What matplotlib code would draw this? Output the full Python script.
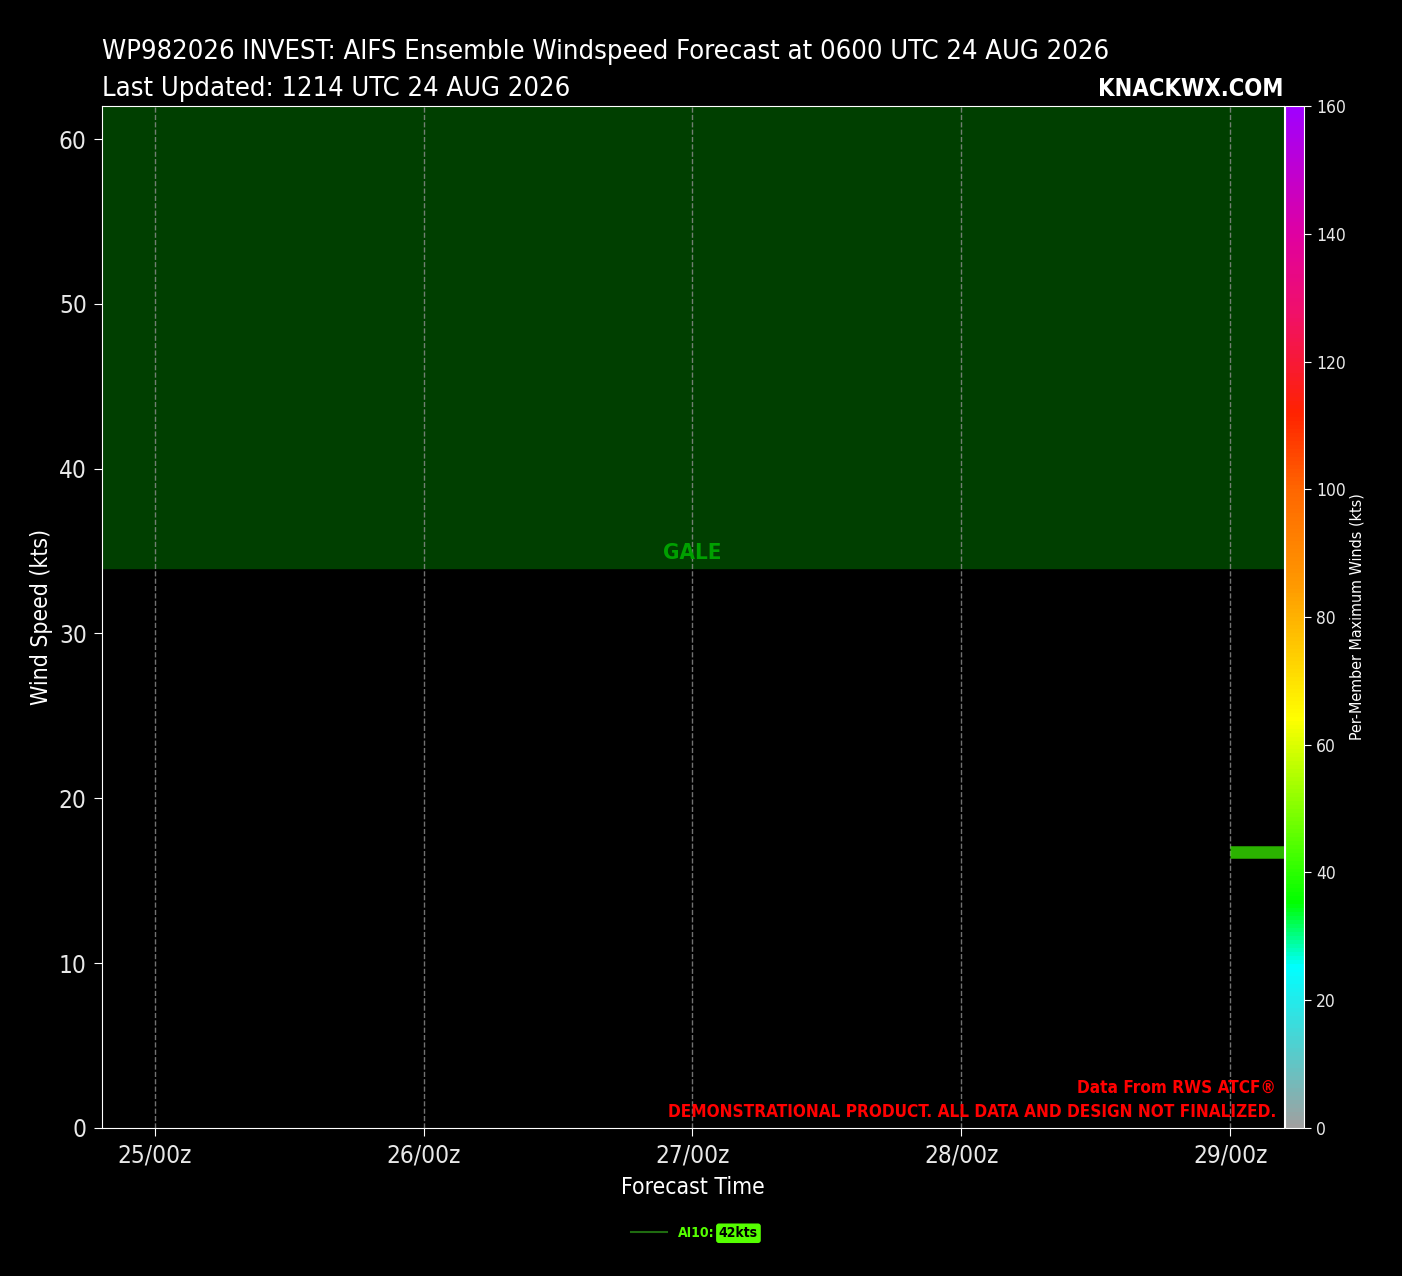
import datetime as dt
import matplotlib
matplotlib.use('Agg')
import matplotlib.pyplot as plt
import matplotlib.dates as mdates
from matplotlib.colors import LinearSegmentedColormap, Normalize
from matplotlib.cm import ScalarMappable
from matplotlib.lines import Line2D

plt.rcParams['font.family'] = ['Liberation Sans Narrow', 'DejaVu Sans']
plt.rcParams['font.stretch'] = 'condensed'

# Данные
init_time = dt.datetime(2026, 8, 24, 6)
member_names = ['AI10']
member_max_winds = [42]
member_times = [[dt.datetime(2026, 8, 29, 0), dt.datetime(2026, 8, 29, 6)]]
member_speeds = [[16.75, 16.75]]
gale_low = 34
y_max = 62
x_start = dt.datetime(2026, 8, 24, 19, 18)
x_end = dt.datetime(2026, 8, 29, 4, 48)

cb_stops = [0, 25, 35, 64, 85, 100, 112, 128, 140, 160]
cb_colors = ['#a0a0a0', '#00ffff', '#00ff00', '#ffff00', '#ff9900',
             '#ff6600', '#ff2200', '#f0106a', '#e000a0', '#a000ff']

cmap = LinearSegmentedColormap.from_list(
    'knack', [(s / 160, c) for s, c in zip(cb_stops, cb_colors)])
norm = Normalize(0, 160)

fig = plt.figure(figsize=(14.02, 12.76), dpi=100, facecolor='black')
ax = fig.add_axes([0.07275, 0.116, 0.843, 0.8009])
cax = fig.add_axes([0.9165, 0.116, 0.0136, 0.8009])
ax.set_facecolor('black')

# Зона шторма
ax.axhspan(gale_low, y_max, color='#003f00', zorder=0)
ax.text(mdates.date2num(dt.datetime(2026, 8, 27, 0)), gale_low + 0.3, 'GALE',
        color='#00a000', fontsize=16, fontweight='bold', ha='center', va='bottom')

for name, t, s, w in zip(member_names, member_times, member_speeds, member_max_winds):
    ax.plot(t, s, color=cmap(norm(w)), alpha=0.7, linewidth=9,
            solid_capstyle='butt', zorder=3)

ax.set_xlim(x_start, x_end)
ax.set_ylim(0, y_max)
ax.xaxis.set_major_locator(mdates.DayLocator())
ax.xaxis.set_major_formatter(mdates.DateFormatter('%d/%Hz'))
ax.grid(True, axis='x', color='#909090', linestyle='--', linewidth=1, alpha=0.8)
ax.tick_params(colors='white', labelcolor='#e8e8e8', labelsize=17.5, length=6, pad=5)
for sp in ax.spines.values():
    sp.set_color('white')
ax.set_xlabel('Forecast Time', color='white', fontsize=16.5, labelpad=6)
ax.set_ylabel('Wind Speed (kts)', color='white', fontsize=16.5)

cb = fig.colorbar(ScalarMappable(norm=norm, cmap=cmap), cax=cax)
cb.set_ticks(range(0, 161, 20))
cb.outline.set_edgecolor('white')
cax.tick_params(colors='white', labelcolor='#e8e8e8', labelsize=12.5, length=5)
cb.set_label('Per-Member Maximum Winds (kts)', color='white', fontsize=11.5, labelpad=3)

fig.text(0.07275, 0.9538, 'WP982026 INVEST: AIFS Ensemble Windspeed Forecast at '
         + init_time.strftime('%H%M UTC %d %b %Y').upper(),
         color='white', fontsize=19.6, ha='left', va='baseline')
fig.text(0.07275, 0.9245, 'Last Updated: 1214 UTC 24 AUG 2026',
         color='white', fontsize=19.6, ha='left', va='baseline')
fig.text(0.9158, 0.9245, 'KNACKWX.COM', color='white', fontsize=17,
         fontweight='bold', ha='right', va='baseline')

ax.text(0.9935, 0.0108, 'Data From RWS ATCF®\nDEMONSTRATIONAL PRODUCT. ALL DATA AND DESIGN NOT FINALIZED.',
        transform=ax.transAxes, color='red', fontsize=12.3, fontweight='bold',
        ha='right', va='baseline', linespacing=1.45)

handles = [Line2D([], [], color='#1f6b10', linewidth=1.5)]
leg = fig.legend(handles, [m + ':' for m in member_names], loc='center',
                 bbox_to_anchor=(0.48, 0.0335), frameon=False, handlelength=2.6,
                 prop={'weight': 'bold', 'size': 10}, labelcolor='#55ff00')
fig.canvas.draw()
bb = leg.get_texts()[0].get_window_extent()
x_fig = (bb.x1 + 4) / fig.bbox.width
y_fig = (bb.y0 + bb.y1) / 2 / fig.bbox.height
fig.text(x_fig, y_fig, f'{member_max_winds[0]}kts', color='black', fontsize=10,
         fontweight='bold', ha='left', va='center',
         bbox=dict(boxstyle='round,pad=0.2', facecolor='#55ff00', edgecolor='none'))

fig.savefig('out.png', dpi=100, facecolor='black')
